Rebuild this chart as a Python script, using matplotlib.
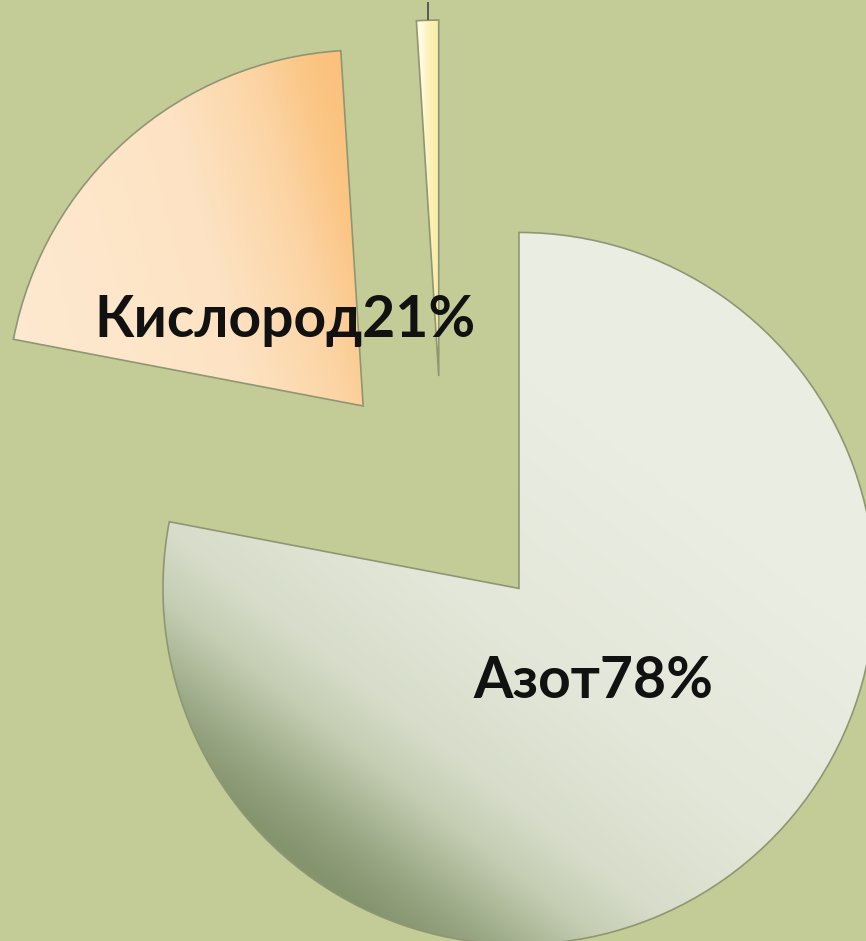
import matplotlib
matplotlib.use("Agg")
import matplotlib.pyplot as plt
import numpy as np
from matplotlib.colors import to_rgb

# data
names = ["Азот", "Кислород", ""]
shares = [78, 21, 1]

BG = "#c3cc97"
EDGE = "#8f9673"
EXPLODE = 0.337
PX = 356.0               # pixels per unit radius
CX, CY = 442.5, 496.0    # pie centre in pixels

# gradient stops: (position along direction, colour) per slice
grad_dirs = [52, 15, 0]
grad_stops = [
    [(-1.05, "#84946d"), (-0.93, "#96a481"), (-0.82, "#adb999"),
     (-0.71, "#c5cdb3"), (-0.55, "#d7ddca"), (-0.2, "#e3e7d9"),
     (0.4, "#eaede2")],
    [(-1.1, "#fdead2"), (-0.45, "#fde3c3"), (-0.2, "#fcd4a4"),
     (-0.05, "#fbc583"), (0.06, "#fbbf7b")],
    [(-0.06, "#fffbe2"), (-0.035, "#fcf1b4"), (0.0, "#f9eba6")],
]


def fill_gradient(ax, wedge, angle, stops):
    (x0, y0), (x1, y1) = wedge.get_path().get_extents().get_points()
    xs = np.linspace(x0, x1, 500)
    ys = np.linspace(y0, y1, 500)
    X, Y = np.meshgrid(xs, ys)
    a = np.deg2rad(angle)
    t = X * np.cos(a) + Y * np.sin(a)
    pos = [p for p, _ in stops]
    cols = np.array([to_rgb(c) for _, c in stops])
    img = np.dstack([np.interp(t, pos, cols[:, k]) for k in range(3)])
    im = ax.imshow(img, extent=(x0, x1, y0, y1), origin="lower",
                   interpolation="bilinear", zorder=1)
    im.set_clip_path(wedge)


fig = plt.figure(figsize=(8.66, 9.41), dpi=100, facecolor=BG)
ax = fig.add_axes([0, 0, 1, 1])
ax.set_facecolor(BG)

wedges, _ = ax.pie(shares, startangle=90, counterclock=False,
                   explode=[EXPLODE] * len(shares),
                   wedgeprops=dict(facecolor="none", edgecolor=EDGE, lw=1.2))

for w, ang, st in zip(wedges, grad_dirs, grad_stops):
    w.set_zorder(2)
    fill_gradient(ax, w, ang, st)

# labels inside the exploded slices
for w, name, val in zip(wedges, names, shares):
    mid = np.deg2rad((w.theta1 + w.theta2) / 2)
    cx, cy = w.center
    if name:
        ax.text(cx + 0.33 * np.cos(mid), cy + 0.33 * np.sin(mid) - 0.053,
                f"{name}{val}%", ha="center", va="baseline",
                fontsize=41, fontweight="bold", family="Lato",
                color="#111111", zorder=5)
    else:
        # leader line of the small slice, label lies outside the picture
        ox, oy = cx + np.cos(mid), cy + np.sin(mid)
        ax.plot([ox, ox], [oy, oy + 0.05], color="#505050", lw=1.3,
                zorder=5, solid_capstyle="butt")

ax.set_xlim(-CX / PX, (866 - CX) / PX)
ax.set_ylim((CY - 941) / PX, CY / PX)
ax.set_aspect("auto")
ax.axis("off")

fig.savefig("out.png", dpi=100, facecolor=BG)
